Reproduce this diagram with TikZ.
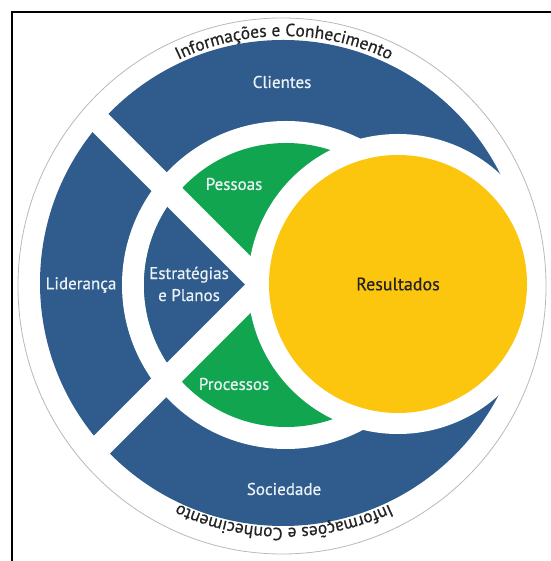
\documentclass[tikz,border=0pt]{standalone}
\usepackage{fontspec}
\setmainfont{PT Sans}
\newfontfamily\semib[FakeBold=0.6]{PT Sans}
\usetikzlibrary{decorations.text}
\definecolor{ringblue}{RGB}{47,92,140}
\definecolor{leafgreen}{RGB}{16,165,78}
\definecolor{sunyellow}{RGB}{253,198,14}
\definecolor{paletext}{RGB}{236,241,246}
\definecolor{darktext}{RGB}{35,35,35}
\definecolor{rimgray}{RGB}{185,185,185}
\newcommand{\arcfont}{\semib\fontsize{17.5}{18}\selectfont\color{darktext}}
\tikzset{
  lbl/.style={font=\semib\fontsize{17}{22}\selectfont, text=paletext, align=center, inner sep=0pt},
  darklbl/.style={font=\semib\fontsize{18}{22}\selectfont, text=darktext, inner sep=0pt},
  gap/.style={white, line width=24pt},
}
\begin{document}
\begin{tikzpicture}[x=1pt,y=1pt]
\useasboundingbox (0,0) rectangle (550,561);
\fill[white] (0,0) rectangle (550,561);
% frame
\draw[line width=2pt] (11.5,-5) -- (11.5,549) -- (560,549);
% outer blue ring
\fill[ringblue] (283,278) circle (243);
% white hole
\fill[white] (286,276) circle (164);
% inner disk green
\fill[leafgreen] (286,276) circle (142);
% strategies wedge
\coordinate (P) at (262,276.5);
\begin{scope}
  \clip (286,276) circle (142);
  \fill[ringblue] (P) -- ++(-260,260) -- ++(0,-520) -- cycle;
\end{scope}
% white bands
\draw[gap] (P) -- ++(-225,225);
\draw[gap] (P) -- ++(-225,-225);
% results disk
\fill[white] (398,277) circle (150);
\fill[sunyellow] (398,277) circle (129);
% thin rim
\draw[rimgray, line width=0.8pt] (282,275) ellipse [x radius=264, y radius=268];
% labels
\node[lbl] (cli) at (282,479) {Clientes};
\node[lbl] (lid) at (81,276) {Liderança};
\node[lbl] (est) at (189,277) {Estratégias\\e Planos};
\node[lbl] (pes) at (234,377) {Pessoas};
\node[lbl] (pro) at (234,177) {Processos};
\node[lbl] (soc) at (284,72) {Sociedade};
\node[darklbl] (res) at (398,277) {Resultados};
% arc texts
\path[decorate, decoration={text along path, text align=center,
  text={|\arcfont|Informações e Conhecimento}}]
  (284,280) ++(125:245) arc[start angle=125, end angle=55, radius=245];
\path[decorate, decoration={text along path, text align=center,
  text={|\arcfont|Informações e Conhecimento}}]
  (284,279) ++(-55:246) arc[start angle=-55, end angle=-125, radius=246];
\end{tikzpicture}
\end{document}
